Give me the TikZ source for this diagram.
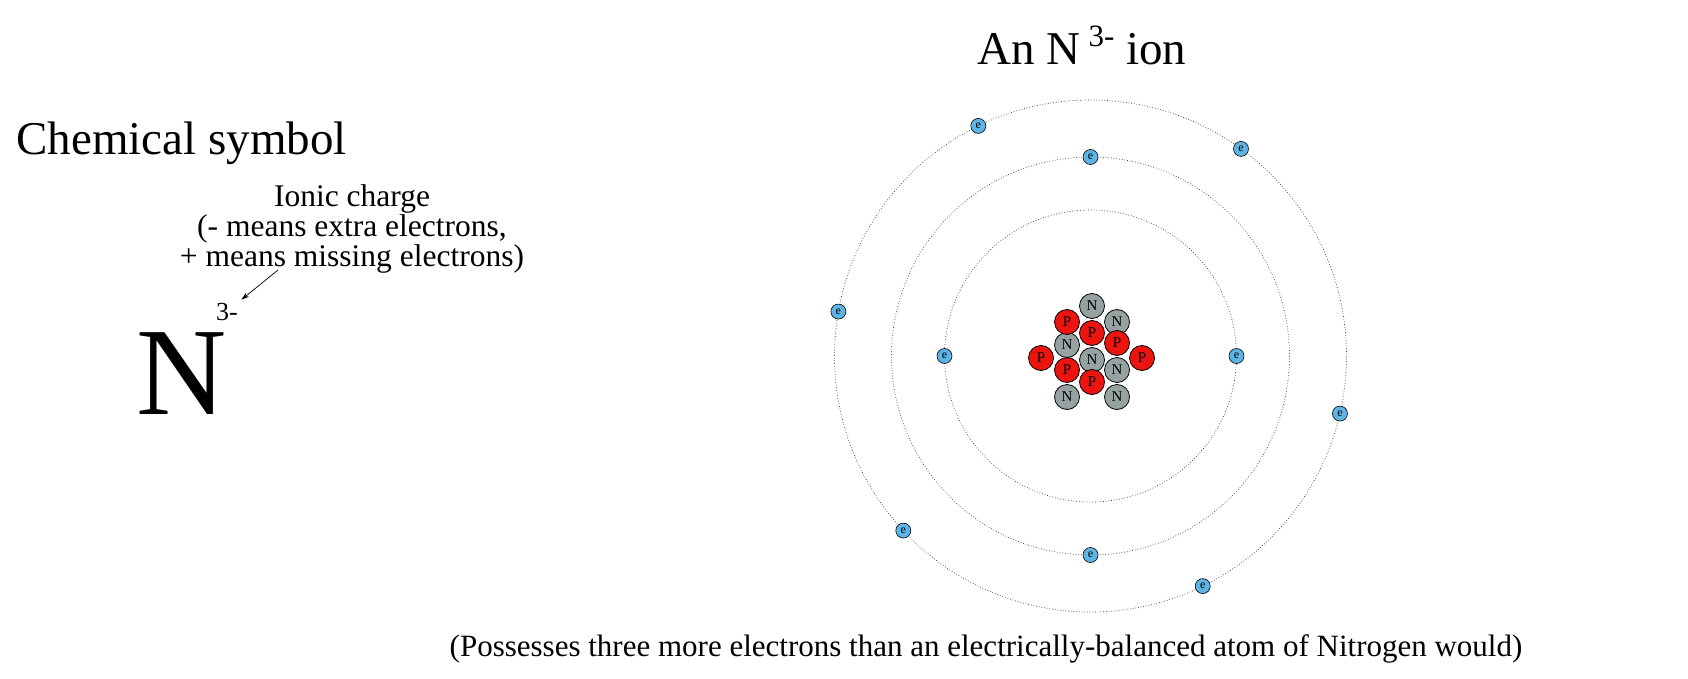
\documentclass[tikz,border=0pt]{standalone}
\usepackage{fontspec}
\setmainfont{Liberation Serif}
\usetikzlibrary{calc,arrows.meta}
\definecolor{ecol}{RGB}{95,180,230}
\definecolor{ncol}{RGB}{150,162,162}
\definecolor{pcol}{RGB}{235,20,15}
\begin{document}
\begin{tikzpicture}[x=1pt,y=-1pt,
  prot/.style={circle,draw=black,line width=0.8pt,fill=pcol,minimum size=25pt,inner sep=0pt,font=\fontsize{15}{15}\selectfont},
  neut/.style={circle,draw=black,line width=0.8pt,fill=ncol,minimum size=25pt,inner sep=0pt,font=\fontsize{15}{15}\selectfont},
  elec/.style={circle,draw=black,line width=0.6pt,fill=ecol,minimum size=15pt,inner sep=0pt,font=\fontsize{12}{12}\selectfont},
  orbit/.style={draw=black!80,dotted,line width=0.7pt}]
\useasboundingbox (0,0) rectangle (1688,679);
\node (title) at (1082,45) {\fontsize{47}{47}\selectfont An N\,\raisebox{18pt}{\fontsize{31}{31}\selectfont 3-} ion};
\node[anchor=west] (chem) at (13,143) {\fontsize{47}{47}\selectfont Chemical symbol};
\node[align=center,font=\fontsize{31.5}{28}\selectfont] (ionic) at (352,229) {Ionic charge\\(- means extra electrons,\\+ means missing electrons)};
\node (bigN) at (182,374) {\fontsize{125}{125}\selectfont N};
\node (chg) at (227,312) {\fontsize{26}{26}\selectfont 3-};
\coordinate (as) at (278,270);
\draw[-{Stealth[length=8pt,width=5pt]},line width=0.7pt] (as) -- (chg.north east);
\node (note) at (986,649) {\fontsize{31}{31}\selectfont (Possesses three more electrons than an electrically-balanced atom of Nitrogen would)};
\coordinate (c) at (1090.5,356);
\draw[orbit] (c) circle (146);
\draw[orbit] (c) circle (199);
\draw[orbit] (c) circle (256);
\node[elec] (e1) at ($(c)+(180:146)$) {e};
\node[elec] (e2) at ($(c)+(0:146)$) {e};
\node[elec] (e3) at ($(c)+(0,-199)$) {e};
\node[elec] (e4) at ($(c)+(0,199)$) {e};
\foreach \a [count=\i] in {-116,-54,-170,13,-223,64}
  \node[elec] (o\i) at ($(c)+(\a:256)$) {e};
\node[neut] (n1) at (1092,306) {N};
\node[neut] (n2) at (1117,322) {N};
\node[neut] (n3) at (1067,345) {N};
\node[neut] (n4) at (1092,360) {N};
\node[neut] (n5) at (1117,370) {N};
\node[neut] (n6) at (1067,397) {N};
\node[neut] (n7) at (1117,397) {N};
\node[prot] (p1) at (1067,322) {P};
\node[prot] (p2) at (1092,333) {P};
\node[prot] (p3) at (1117,343) {P};
\node[prot] (p4) at (1041,358) {P};
\node[prot] (p5) at (1142,358) {P};
\node[prot] (p6) at (1067,370) {P};
\node[prot] (p7) at (1092,382) {P};
\end{tikzpicture}
\end{document}
